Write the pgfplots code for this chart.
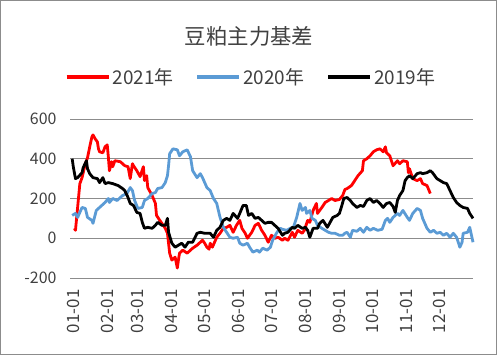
\documentclass[border=0pt]{standalone}
\usepackage{fontspec}
\setmainfont{Noto Sans CJK SC}
\usepackage{pgfplots}
\pgfplotsset{compat=1.18}
\definecolor{c21}{HTML}{FF0000}
\definecolor{c20}{HTML}{5B9BD5}
\definecolor{c19}{HTML}{000000}
\definecolor{gridc}{HTML}{8C8C8C}
\definecolor{txt}{HTML}{404040}
\begin{document}
\begin{tikzpicture}[x=1bp,y=1bp]
\useasboundingbox (0,0) rectangle (497,355);
\draw[gridc, line width=1.2bp] (0.6,0.6) rectangle (496.4,354.4);
\node[font=\fontsize{21.5}{24}\selectfont, text=txt] at (249,319) {豆粕主力基差};
\begin{axis}[
 at={(70bp,77bp)}, anchor=south west, scale only axis, width=403bp, height=159bp,
 xmin=-3, xmax=365, ymin=-200, ymax=600,
 xtick={0,31,59,90,120,151,181,212,243,273,304,334},
 xticklabels={01-01,02-01,03-01,04-01,05-01,06-01,07-01,08-01,09-01,10-01,11-01,12-01},
 ytick={-200,0,200,400,600},
 ymajorgrids, grid style={gridc, line width=0.9bp},
 axis line style={draw=none}, major tick length=0pt,
 xticklabel shift=8bp, yticklabel shift=10bp,
 xticklabel style={rotate=90, anchor=east, font=\fontsize{17}{18}\selectfont, text=txt},
 yticklabel style={font=\fontsize{16}{18}\selectfont, text=txt},
 /pgf/number format/assume math mode=true,
 clip=false,
 legend columns=3,
 legend style={at={(0.449,1.264)}, anchor=center, draw=none, fill=none,
   font=\fontsize{19}{20}\selectfont, text=txt,
   /tikz/every even column/.append style={column sep=20bp}},
 legend image code/.code={\draw[#1, line width=3.8bp] (0bp,0bp) -- (42bp,0bp);},
 every axis plot/.append style={line width=2.8bp, line join=round},
]
\addplot[c21] coordinates {
(1,50)(2,40)(6,275)(8,305)(11,375)(13,405)(15,460)(17,510)(18,520)(20,500)(22,485)(23,450)(24,435)(27,430)(29,460)(31,470)(32,410)(33,340)(35,385)(36,360)(38,390)(43,385)(47,365)(50,360)(52,300)(54,375)(55,365)(58,340)(61,310)(64,360)(65,290)(67,315)(68,255)(72,215)(75,175)(76,115)(79,90)(84,50)(86,25)(88,-75)(90,-110)(93,-95)(95,-150)(96,-110)(97,-75)(100,-60)(104,-75)(107,-60)(109,-50)(113,-35)(118,-10)(120,-25)(122,-45)(124,-55)(125,-25)(127,-45)(131,5)(134,25)(137,50)(140,55)(143,65)(146,30)(149,65)(152,90)(154,50)(157,25)(159,0)(163,30)(166,65)(169,75)(172,40)(175,15)(178,-20)(181,15)(184,0)(187,5)(191,-10)(193,0)(196,-10)(200,30)(202,5)(205,40)(209,25)(211,40)(214,90)(216,80)(219,140)(222,175)(223,125)(227,155)(230,180)(233,190)(236,200)(239,190)(243,195)(246,215)(248,245)(250,250)(254,265)(257,290)(260,315)(264,340)(265,390)(268,400)(271,415)(274,435)(277,445)(280,450)(283,435)(285,460)(286,430)(289,415)(292,365)(296,390)(298,375)(301,390)(305,385)(306,330)(307,350)(310,300)(314,290)(317,300)(319,275)(323,265)(326,225)
};
\addlegendentry{2021年}
\addplot[c20] coordinates {
(-1,115)(2,125)(4,105)(8,155)(11,150)(13,105)(17,90)(18,75)(21,140)(24,155)(29,180)(32,200)(33,180)(36,200)(40,190)(43,205)(45,215)(49,225)(52,255)(54,240)(56,190)(59,150)(63,155)(65,190)(68,200)(72,225)(75,230)(77,250)(81,255)(84,280)(86,315)(87,365)(88,425)(91,450)(95,445)(97,415)(100,435)(104,445)(107,410)(109,340)(113,305)(116,325)(118,305)(122,255)(125,240)(128,200)(131,175)(134,105)(137,55)(140,30)(143,5)(146,0)(150,5)(152,-25)(155,-35)(159,-25)(161,-45)(164,-70)(168,-60)(170,-70)(173,-50)(177,-60)(180,-45)(182,-10)(186,30)(189,50)(191,45)(195,40)(198,50)(201,55)(204,105)(207,175)(209,140)(212,155)(213,125)(216,140)(218,100)(221,90)(223,65)(227,50)(230,40)(233,30)(236,25)(239,25)(243,15)(246,15)(248,25)(250,30)(253,5)(255,40)(259,35)(262,50)(265,30)(268,55)(271,40)(274,50)(278,40)(282,45)(285,90)(287,100)(289,80)(292,105)(296,125)(298,115)(301,140)(305,105)(307,90)(310,125)(314,150)(317,140)(319,100)(323,50)(326,30)(329,40)(332,25)(335,30)(338,15)(341,25)(344,5)(347,25)(350,5)(353,-45)(355,-20)(356,25)(360,30)(362,55)(365,-20)
};
\addlegendentry{2020年}
\addplot[c19] coordinates {
(-1,400)(0,360)(2,300)(4,305)(8,330)(9,355)(12,390)(13,350)(15,325)(18,305)(22,300)(24,280)(27,305)(29,275)(32,280)(36,275)(41,265)(45,250)(47,240)(50,205)(52,175)(55,165)(58,130)(61,125)(63,80)(65,50)(68,55)(72,50)(75,65)(77,80)(81,65)(84,65)(86,100)(87,30)(90,-25)(93,-45)(96,-35)(99,-25)(102,-45)(105,-20)(109,-20)(113,25)(116,30)(120,25)(125,25)(128,5)(131,40)(134,55)(137,90)(140,100)(143,90)(146,125)(150,100)(152,125)(155,165)(158,165)(160,115)(163,125)(166,100)(169,105)(172,90)(175,75)(178,80)(181,80)(184,65)(187,50)(191,15)(193,25)(196,30)(200,55)(202,50)(205,65)(209,50)(212,55)(214,40)(216,5)(219,50)(223,50)(225,75)(228,90)(232,55)(234,75)(237,105)(241,115)(243,125)(245,160)(247,200)(250,205)(253,190)(255,175)(259,155)(262,165)(265,160)(268,190)(271,200)(274,180)(277,190)(280,175)(283,155)(286,175)(289,180)(292,160)(294,130)(296,190)(298,215)(301,240)(303,290)(305,305)(307,315)(310,300)(314,325)(317,330)(319,325)(323,330)(326,340)(328,330)(332,300)(335,290)(338,280)(341,275)(344,240)(347,205)(350,180)(353,165)(356,155)(360,150)(362,125)(365,100)
};
\addlegendentry{2019年}
\end{axis}
\end{tikzpicture}
\end{document}
